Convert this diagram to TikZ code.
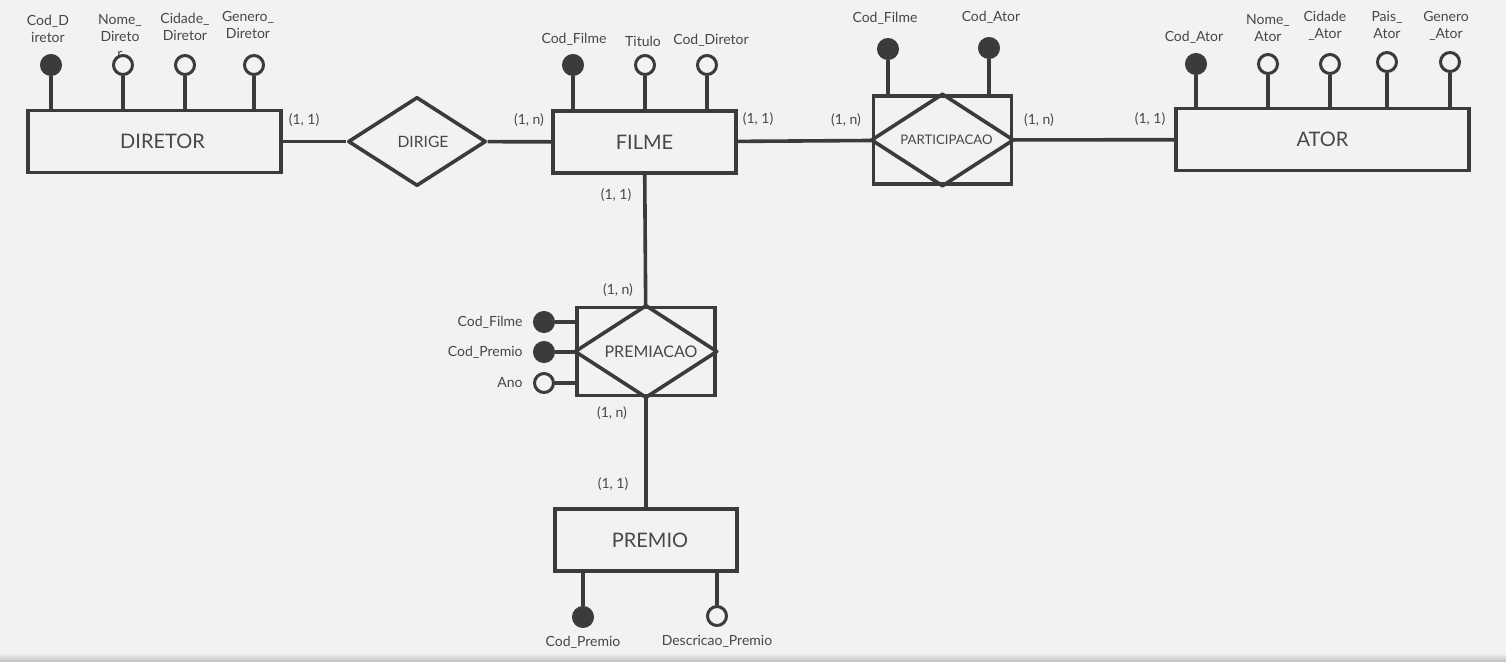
\documentclass[tikz,border=0pt]{standalone}
\usepackage{fontspec}
\setmainfont{Lato}
\usetikzlibrary{positioning,shapes.geometric}
\definecolor{inkgray}{HTML}{3B3B3B}
\definecolor{textgray}{HTML}{474747}
\definecolor{paper}{HTML}{F2F2F0}

\begin{document}
\begin{tikzpicture}[x=0.5pt, y=-0.5pt,
    entity/.style={draw=inkgray, line width=1.8pt, rectangle, inner sep=0pt,
                   minimum width=#1, minimum height=31pt,
                   font=\fontsize{10}{12}\selectfont, text=textgray},
    rel/.style={draw=inkgray, line width=1.8pt, diamond, inner sep=0pt,
                line join=round, minimum width=69pt, minimum height=44.5pt,
                font=\fontsize{7.8}{9}\selectfont, text=textgray},
    assoc/.style={draw=inkgray, line width=1.8pt, rectangle, inner sep=0pt,
                  minimum width=69pt, minimum height=44pt,
                  font=\fontsize{#1}{9}\selectfont, text=textgray},
    keyattr/.style={circle, draw=inkgray, fill=inkgray, line width=1.5pt,
                    minimum size=9.5pt, inner sep=0pt},
    attr/.style={keyattr, fill=paper},
    lbl/.style={font=\fontsize{7}{8.5}\selectfont, text=textgray,
                align=center, inner sep=0pt},
    link/.style={draw=inkgray, line width=1.8pt, line join=round}
  ]
    % paper
    \fill[paper] (0,0) rectangle (1506,661);
    \shade[top color=paper, bottom color=gray!45] (0,653) rectangle (1506,661);

    % entities and relationships
    \node[entity=126.5pt] (diretor) at (154.5,141.5) {\hspace{8pt}DIRETOR};
    \node[rel] (dirige) at (417,141.5) {\hspace{6pt}DIRIGE};
    \node[entity=91.5pt] (filme) at (644.5,142) {FILME};
    \node[assoc=6.6] (part) at (942.5,140) {\hspace{4pt}PARTICIPACAO};
    \node[entity=146.5pt] (ator) at (1322.5,139.5) {ATOR};
    \node[assoc=8] (premiacao) at (646,351.5) {\hspace{5pt}PREMIACAO};
    \node[entity=91pt] (premio) at (646,540) {\hspace{4pt}PREMIO};

    \draw[link] (part.west) -- (part.north) -- (part.east) -- (part.south) -- cycle;
    \draw[link] (premiacao.west) -- (premiacao.north) -- (premiacao.east)
                -- (premiacao.south) -- cycle;

    \draw[link] (diretor) -- (dirige);
    \draw[link] (dirige) -- (filme);
    \draw[link] (filme) -- (part);
    \draw[link] (part) -- (ator);
    \draw[link] (filme) -- (premiacao);
    \draw[link] (premiacao) -- (premio);

    % cardinalities
    \node[lbl] (c1) at (304,120) {(1, 1)};
    \node[lbl] (c2) at (529,120) {(1, n)};
    \node[lbl] (c3) at (758,119) {(1, 1)};
    \node[lbl] (c4) at (846,120) {(1, n)};
    \node[lbl] (c5) at (1039,120) {(1, n)};
    \node[lbl] (c6) at (1150,119) {(1, 1)};
    \node[lbl] (c7) at (616,195) {(1, 1)};
    \node[lbl] (c8) at (618,290) {(1, n)};
    \node[lbl] (c9) at (612,413) {(1, n)};
    \node[lbl] (c10) at (613,484) {(1, 1)};

    % DIRETOR attributes
    \node[lbl] (ldcod) at (48,29) {Cod\_D\\iretor};
    \node[lbl] (ldnome) at (120,36) {Nome\_\\Direto\\r};
    \node[lbl] (ldcid) at (185,27) {Cidade\_\\Diretor};
    \node[lbl] (ldgen) at (248,25) {Genero\_\\Diretor};
    \node[keyattr] (dcod) at (51,65) {};
    \node[attr] (dnome) at (123,65) {};
    \node[attr] (dcid) at (185,65) {};
    \node[attr] (dgen) at (254,65) {};
    \foreach \a in {dcod,dnome,dcid,dgen}
      \draw[link] (\a) -- (\a |- diretor.north);

    % FILME attributes
    \node[lbl] (lfcod) at (574,39) {Cod\_Filme};
    \node[lbl] (lftit) at (643,41) {Titulo};
    \node[lbl] (lfdir) at (711,40) {Cod\_Diretor};
    \node[keyattr] (fcod) at (573,65) {};
    \node[attr] (ftit) at (645,65) {};
    \node[attr] (fdir) at (707,65) {};
    \foreach \a in {fcod,ftit,fdir}
      \draw[link] (\a) -- (\a |- filme.north);

    % PARTICIPACAO attributes
    \node[lbl] (lpfil) at (885,18) {Cod\_Filme};
    \node[lbl] (lpato) at (991,17) {Cod\_Ator};
    \node[keyattr] (pfil) at (888,49) {};
    \node[keyattr] (pato) at (989,48) {};
    \foreach \a in {pfil,pato}
      \draw[link] (\a) -- (\a |- part.north);

    % ATOR attributes
    \node[lbl] (lacod) at (1194,37) {Cod\_Ator};
    \node[lbl] (lanome) at (1268,28) {Nome\_\\Ator};
    \node[lbl] (lacid) at (1325,26) {Cidade\\\_Ator};
    \node[lbl] (lapais) at (1387,25) {Pais\_\\Ator};
    \node[lbl] (lagen) at (1446,26) {Genero\\\_Ator};
    \node[keyattr] (acod) at (1196,64) {};
    \node[attr] (anome) at (1268,64) {};
    \node[attr] (acid) at (1330,64) {};
    \node[attr] (apais) at (1387,62) {};
    \node[attr] (agen) at (1450,62) {};
    \foreach \a in {acod,anome,acid,apais,agen}
      \draw[link] (\a) -- (\a |- ator.north);

    % PREMIACAO attributes
    \node[keyattr] (rfil) at (544,322) {};
    \node[keyattr] (rpre) at (544,352) {};
    \node[attr] (rano) at (544,383) {};
    \node[lbl, left=5pt of rfil] (lrfil) {Cod\_Filme};
    \node[lbl, left=5pt of rpre] (lrpre) {Cod\_Premio};
    \node[lbl, left=5pt of rano] (lrano) {Ano};
    \foreach \a in {rfil,rpre,rano}
      \draw[link] (\a) -- (\a -| premiacao.west);

    % PREMIO attributes
    \node[keyattr] (pcod) at (583,617) {};
    \node[attr] (pdesc) at (717,616) {};
    \node[lbl, below=4pt of pcod] (lpcod) {Cod\_Premio};
    \node[lbl, below=4pt of pdesc] (lpdesc) {Descricao\_Premio};
    \foreach \a in {pcod,pdesc}
      \draw[link] (\a) -- (\a |- premio.south);
  \end{tikzpicture}
\end{document}
